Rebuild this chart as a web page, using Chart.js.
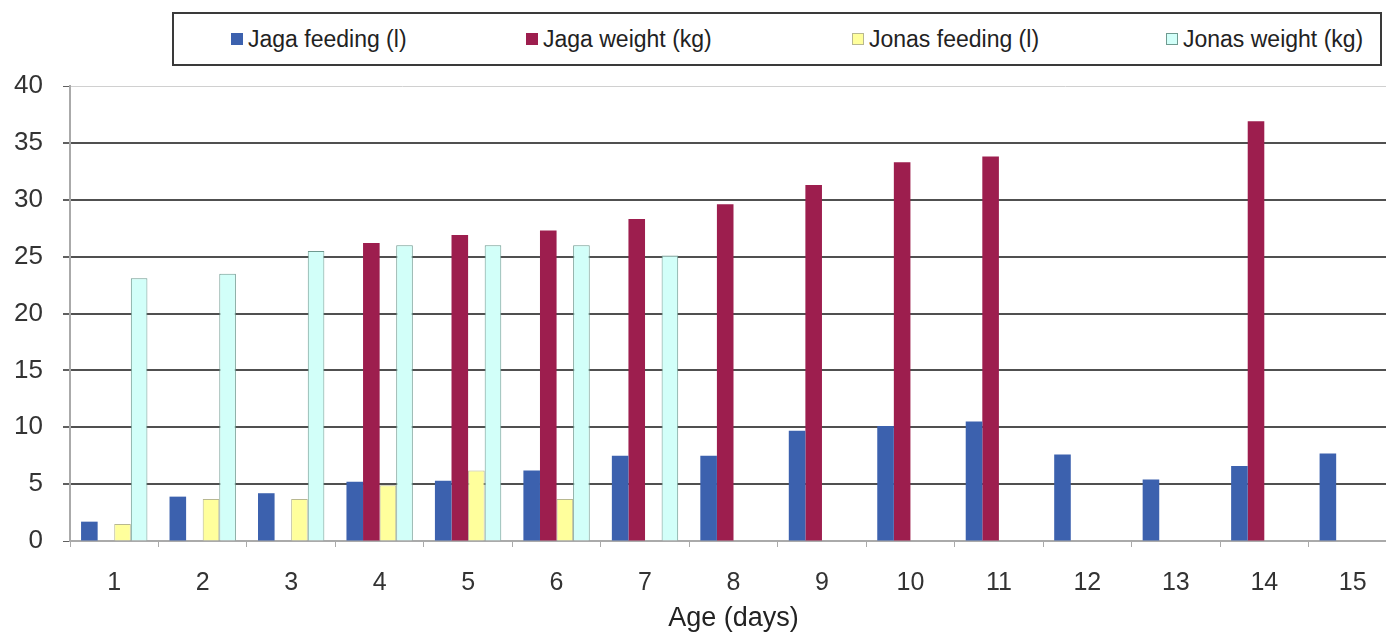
<!DOCTYPE html>
<html>
<head>
<meta charset="utf-8">
<script src="https://cdn.jsdelivr.net/npm/chart.js@4.4.1/dist/chart.umd.min.js"></script>
<style>
  html, body { margin: 0; padding: 0; background: #fff; overflow: hidden; width: 1386px; height: 632px; }
  #wrap { position: relative; width: 1400px; height: 632px; }
  #c { position: absolute; left: 0; top: 0; }
  #legend { position: absolute; left: 172px; top: 12px; width: 1206px; height: 50px; border: 2px solid #3a3a3a; background: #fff; font-family: "Liberation Sans", Arial, sans-serif; }
  .item { position: absolute; top: 0; height: 50px; display: flex; align-items: center; font-size: 23px; color: #222; white-space: nowrap; }
  .sw { width: 12px; height: 12px; margin-right: 5px; box-sizing: border-box; }
</style>
</head>
<body>
<div id="wrap">
  <canvas id="c" width="1400" height="632"></canvas>
  <div id="legend"></div>
</div>
<script>
const days = ["1","2","3","4","5","6","7","8","9","10","11","12","13","14","15"];
const jagaFeeding  = [1.7, 3.9, 4.2, 5.2, 5.3, 6.2, 7.5, 7.5, 9.7, 10.1, 10.5, 7.6, 5.4, 6.6, 7.7];
const jagaWeight   = [null, null, null, 26.2, 26.9, 27.3, 28.3, 29.6, 31.3, 33.3, 33.8, null, null, 36.9, null];
const jonasFeeding = [1.5, 3.7, 3.7, 4.9, 6.2, 3.7, null, null, null, null, null, null, null, null, null];
const jonasWeight  = [23.1, 23.5, 25.5, 26.0, 26.0, 26.0, 25.1, null, null, null, null, null, null, null, null];
const seriesLabels = ["Jaga feeding (l)", "Jaga weight (kg)", "Jonas feeding (l)", "Jonas weight (kg)"];
const yTicks = [0, 5, 10, 15, 20, 25, 30, 35, 40];

const FONT = "'Liberation Sans', Arial, sans-serif";

const chart = new Chart(document.getElementById('c'), {
  type: 'bar',
  data: {
    labels: days,
    datasets: [
      { label: seriesLabels[0], data: jagaFeeding, backgroundColor: '#3c61ae', borderColor: '#34559a', borderWidth: 0 },
      { label: seriesLabels[1], data: jagaWeight, backgroundColor: '#9d1e4e', borderColor: '#861a43', borderWidth: 0 },
      { label: seriesLabels[2], data: jonasFeeding, backgroundColor: '#ffff9c', borderColor: '#b8b890', borderWidth: 1 },
      { label: seriesLabels[3], data: jonasWeight, backgroundColor: '#d2fff9', borderColor: '#6f9a90', borderWidth: 1 }
    ]
  },
  options: {
    responsive: false,
    animation: false,
    devicePixelRatio: 1,
    layout: { padding: { top: 86, right: 3, left: 0, bottom: 0 } },
    datasets: { bar: { categoryPercentage: 0.75, barPercentage: 1.0, grouped: true } },
    plugins: { legend: { display: false }, tooltip: { enabled: false }, title: { display: false } },
    scales: {
      x: {
        grid: { drawOnChartArea: false, offset: true, tickLength: 6, color: '#aaa', lineWidth: 1 },
        border: { color: '#aaa', width: 2 },
        ticks: { font: { family: FONT, size: 25 }, color: '#333', padding: 21, maxRotation: 0 },
        title: { display: true, text: 'Age (days)', font: { family: FONT, size: 27, lineHeight: 1 }, color: '#222', padding: { top: 0, bottom: 0 } },
        afterFit: (s) => { s.height = 91; }
      },
      y: {
        min: 0, max: 40,
        afterBuildTicks: (s) => { s.ticks = yTicks.map(v => ({ value: v })); },
        grid: {
          color: (ctx) => (ctx.tick && (ctx.tick.value === 0 || ctx.tick.value === 40)) ? '#d0d0d0' : '#505050',
          lineWidth: (ctx) => (ctx.tick && (ctx.tick.value === 0 || ctx.tick.value === 40)) ? 1 : 2,
          tickLength: 7,
          tickColor: '#606060'
        },
        border: { color: '#aaa', width: 2 },
        ticks: { font: { family: FONT, size: 26 }, color: '#333', padding: 20 },
        afterFit: (s) => { s.width = 70; }
      }
    }
  }
});

// HTML legend generated from the chart's datasets
const legendLefts = [231, 526, 852, 1166];
const lg = document.getElementById('legend');
chart.data.datasets.forEach((ds, i) => {
  const it = document.createElement('div');
  it.className = 'item';
  it.style.left = (legendLefts[i] - 174) + 'px';
  const sw = document.createElement('span');
  sw.className = 'sw';
  sw.style.background = ds.backgroundColor;
  if (ds.borderWidth) sw.style.border = '1px solid ' + ds.borderColor;
  const tx = document.createElement('span');
  tx.textContent = ds.label;
  it.appendChild(sw); it.appendChild(tx);
  lg.appendChild(it);
});
</script>
</body>
</html>
